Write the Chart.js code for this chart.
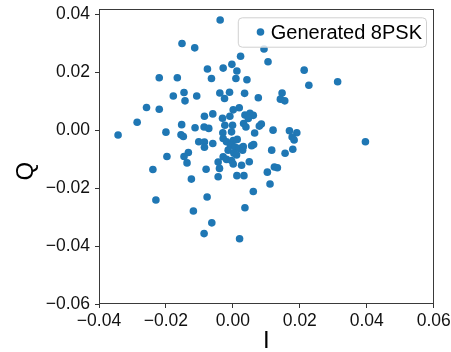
<!DOCTYPE html>
<html><head><meta charset="utf-8">
<script src="https://cdn.jsdelivr.net/npm/chart.js@4.4.1/dist/chart.umd.min.js"></script>
<style>html,body{margin:0;padding:0;background:#fff;}canvas{display:block;}</style>
</head><body>
<canvas id="c" width="451" height="352"></canvas>
<script>
const seriesLabel = 'Generated 8PSK';
const iValues = [
 -0.0038,-0.0152,-0.0114,0.0093,0.0105,0.0023,-0.0003,-0.0029,-0.0076,0.0012,
 0.0213,0.0227,0.0313,-0.0220,-0.0166,-0.0064,0.0009,0.0042,-0.0146,-0.0178,
 -0.0108,-0.0143,-0.0039,-0.0025,-0.0010,0.0035,0.0076,0.0147,0.0142,0.0155,
 -0.0258,-0.0220,-0.0286,-0.0343,-0.0200,-0.0153,-0.0155,-0.0148,-0.0113,-0.0085,
 -0.0060,-0.0031,0.0019,0.0001,-0.0009,0.0036,0.0051,0.0061,0.0046,-0.0086,
 -0.0072,-0.0024,-0.0001,0.0032,0.0039,0.0085,0.0079,0.0065,0.0120,-0.0030,
 -0.0004,0.0169,0.0191,0.0177,0.0183,0.0396,-0.0102,-0.0085,-0.0085,-0.0060,
 -0.0029,-0.0019,0.0001,0.0013,-0.0007,0.0006,0.0019,-0.0014,0.0003,0.0029,
 0.0031,0.0056,0.0062,0.0116,0.0156,0.0179,-0.0133,-0.0146,-0.0137,-0.0197,
 -0.0239,-0.0124,-0.0230,-0.0080,-0.0044,-0.0040,-0.0044,-0.0029,-0.0019,-0.0004,
 0.0001,0.0011,0.0026,0.0049,0.0012,0.0033,0.0061,0.0103,0.0124,0.0133,
 0.0111,-0.0077,-0.0118,0.0036,-0.0063,-0.0086,0.0020
];
const qValues = [
 0.0380,0.0299,0.0284,0.0280,0.0236,0.0255,0.0227,0.0214,0.0211,0.0204,
 0.0207,0.0155,0.0167,0.0181,0.0181,0.0178,0.0178,0.0174,0.0130,0.0118,
 0.0118,0.0101,0.0128,0.0109,0.0131,0.0127,0.0112,0.0128,0.0107,0.0101,
 0.0078,0.0072,0.0027,-0.0017,-0.0007,0.0019,-0.0016,-0.0022,0.0008,0.0048,
 0.0056,0.0041,0.0077,0.0070,0.0048,0.0052,0.0058,0.0051,0.0040,0.0011,
 0.0006,0.0017,0.0017,0.0023,0.0011,0.0021,0.0014,-0.0010,0.0000,-0.0009,
 -0.0006,-0.0002,-0.0009,-0.0024,-0.0034,-0.0040,-0.0040,-0.0041,-0.0059,-0.0046,
 -0.0029,-0.0040,-0.0036,-0.0032,-0.0052,-0.0058,-0.0063,-0.0069,-0.0080,-0.0069,
 -0.0057,-0.0054,-0.0050,-0.0069,-0.0080,-0.0066,-0.0077,-0.0091,-0.0113,-0.0091,
 -0.0136,-0.0169,-0.0241,-0.0135,-0.0110,-0.0132,-0.0161,-0.0092,-0.0101,-0.0105,
 -0.0117,-0.0086,-0.0121,-0.0109,-0.0157,-0.0157,-0.0212,-0.0145,-0.0127,-0.0130,
 -0.0186,-0.0231,-0.0279,-0.0268,-0.0320,-0.0357,-0.0375
];
const xTicks = [-0.04, -0.02, 0.00, 0.02, 0.04, 0.06];
const yTicks = [-0.06, -0.04, -0.02, 0.00, 0.02, 0.04];
const xLimits = [-0.04, 0.06];
const yLimits = [-0.06, 0.0417];
const xTitle = 'I';
const yTitle = 'Q';

const pointColor = '#1f77b4';
const FONT = '"Liberation Sans", Arial, sans-serif';
const fmt = v => v.toFixed(2).replace('-', '\u2212');

const points = iValues.map((x, k) => ({x: x, y: qValues[k]}));

const framePlugin = {
  id: 'frame',
  afterDatasetsDraw(chart) {
    const {ctx, chartArea: a} = chart;
    ctx.save();
    ctx.strokeStyle = '#3a3a3a';
    ctx.lineWidth = 1;
    ctx.strokeRect(Math.round(a.left) + 0.5, Math.round(a.top) + 0.5,
                   Math.round(a.right - a.left) - 1, Math.round(a.bottom - a.top) - 1);
    ctx.restore();
  }
};

// y-axis label, placed where the reference puts it (slightly below the axis centre)
const yTitlePlugin = {
  id: 'yTitle',
  afterDraw(chart) {
    const {ctx} = chart;
    const s = chart.scales.y;
    ctx.save();
    ctx.font = '24px ' + FONT;
    ctx.fillStyle = '#000';
    ctx.textAlign = 'center';
    ctx.textBaseline = 'middle';
    ctx.translate(s.left + 26, s.getPixelForValue(-0.0142));
    ctx.rotate(-Math.PI / 2);
    ctx.fillText(yTitle, 0, 0);
    ctx.restore();
  }
};

const legendPlugin = {
  id: 'insideLegend',
  afterDraw(chart) {
    const {ctx, chartArea: a} = chart;
    const ds = chart.data.datasets[0];
    ctx.save();
    ctx.font = '20px ' + FONT;
    const tw = ctx.measureText(ds.label).width;
    const right = a.right - 7.7, top = a.top + 8, h = 29.4;
    const w = tw + 37;
    const left = right - w;
    ctx.beginPath();
    ctx.roundRect(left + 0.5, top + 0.5, w, h, 4);
    ctx.fillStyle = 'rgba(255,255,255,0.8)';
    ctx.fill();
    ctx.strokeStyle = '#d0d0d0';
    ctx.lineWidth = 1;
    ctx.stroke();
    ctx.beginPath();
    ctx.arc(left + 22.7, top + h / 2, 3.8, 0, Math.PI * 2);
    ctx.fillStyle = ds.backgroundColor;
    ctx.fill();
    ctx.fillStyle = '#000';
    ctx.textBaseline = 'middle';
    ctx.textAlign = 'left';
    ctx.fillText(ds.label, left + 33, top + h / 2 + 1);
    ctx.restore();
  }
};

const zeroPad = s => { s.paddingLeft = 0; s.paddingRight = 0; s.paddingTop = 0; s.paddingBottom = 0; };

new Chart(document.getElementById('c'), {
  type: 'scatter',
  data: {
    datasets: [{
      label: seriesLabel,
      data: points,
      backgroundColor: pointColor,
      borderColor: pointColor,
      borderWidth: 0,
      pointRadius: 3.8,
      pointHoverRadius: 3.8
    }]
  },
  plugins: [framePlugin, legendPlugin, yTitlePlugin],
  options: {
    responsive: false,
    animation: false,
    devicePixelRatio: 1,
    layout: {padding: {left: 0, right: 17.3, top: 9.3, bottom: 0}},
    plugins: {legend: {display: false}, tooltip: {enabled: false}},
    scales: {
      x: {
        type: 'linear',
        position: 'bottom',
        min: xLimits[0], max: xLimits[1],
        afterBuildTicks: s => { s.ticks = xTicks.map(v => ({value: v})); },
        afterFit: s => { s.height = 48; zeroPad(s); },
        grid: {drawOnChartArea: false, drawTicks: true, tickLength: 4, color: '#333', lineWidth: 1},
        border: {display: false},
        ticks: {
          color: '#111', padding: 3, maxRotation: 0, autoSkip: false,
          font: {family: FONT, size: 17.5},
          callback: v => fmt(v)
        },
        title: {display: true, text: xTitle, color: '#000',
                font: {family: FONT, size: 24, lineHeight: 1}, padding: {top: 0, bottom: -1}}
      },
      y: {
        type: 'linear',
        position: 'left',
        min: yLimits[0], max: yLimits[1],
        afterBuildTicks: s => { s.ticks = yTicks.map(v => ({value: v})); },
        afterFit: s => { s.width = 99; zeroPad(s); },
        grid: {drawOnChartArea: false, drawTicks: true, tickLength: 4, color: '#333', lineWidth: 1},
        border: {display: false},
        ticks: {
          color: '#111', padding: 5, autoSkip: false,
          font: {family: FONT, size: 17.5},
          callback: v => fmt(v)
        },
        title: {display: false, text: yTitle}
      }
    }
  }
});
</script>
</body></html>
